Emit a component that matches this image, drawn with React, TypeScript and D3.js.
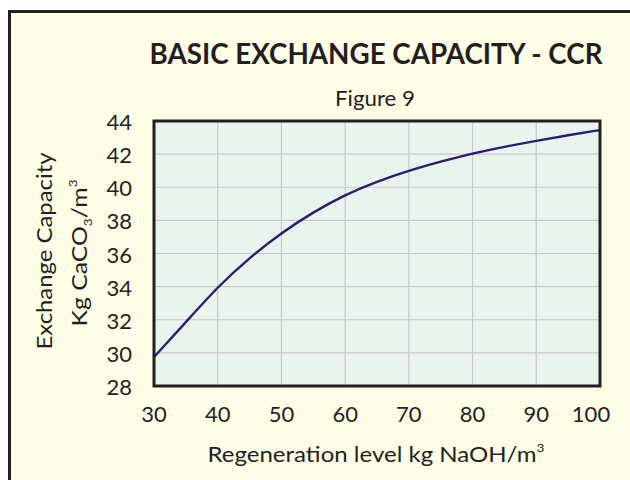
import React from "react";
import * as d3 from "d3";

const regenLevels = [30, 35, 40, 45, 50, 55, 60, 65, 70, 75, 80, 85, 90, 95, 100];
const capacity = [29.75, 31.85, 34.0, 35.75, 37.25, 38.5, 39.55, 40.35, 41.0, 41.55, 42.05, 42.45, 42.8, 43.15, 43.45];
const xTicks = [30, 40, 50, 60, 70, 80, 90, 100];
const yTicks = [28, 30, 32, 34, 36, 38, 40, 42, 44];

const W = 630;
const H = 480;
const FONT = "Lato, 'Open Sans', sans-serif";
const TEXT = "#231f20";

export default function App() {
  const x = d3.scaleLinear().domain([30, 100]).range([154, 600]);
  const y = d3.scaleLinear().domain([28, 44]).range([386, 121]);
  const pts = regenLevels.map((v, i) => [v, capacity[i]] as [number, number]);
  const line = d3
    .line<[number, number]>()
    .x((d) => x(d[0]))
    .y((d) => y(d[1]))
    .curve(d3.curveBasis);

  return (
    <svg
      width={W}
      height={H}
      style={{ position: "absolute", left: 0, top: 0, background: "#ffffff" }}
    >
      <rect x={9.5} y={11.5} width={700} height={600} fill="#fefee6" stroke={TEXT} strokeWidth={3} />
      <text
        x={376}
        y={64}
        textAnchor="middle"
        fontFamily={FONT}
        fontWeight={700}
        fontSize={29}
        fill={TEXT}
        textLength={453}
        lengthAdjust="spacingAndGlyphs"
      >
        BASIC EXCHANGE CAPACITY - CCR
      </text>
      <text x={375} y={106} textAnchor="middle" fontFamily={FONT} fontSize={21} fill={TEXT}
        textLength={80} lengthAdjust="spacingAndGlyphs">
        Figure 9
      </text>

      <rect x={154} y={121} width={446} height={265} fill="#eaf4ee" />
      {xTicks.map((t) => (
        <line key={"gx" + t} x1={x(t)} x2={x(t)} y1={121} y2={386} stroke="#c9c9c9" strokeWidth={1.2} />
      ))}
      {yTicks.map((t) => (
        <line key={"gy" + t} x1={154} x2={600} y1={y(t)} y2={y(t)} stroke="#c9c9c9" strokeWidth={1.2} />
      ))}
      <path d={line(pts) || ""} fill="none" stroke="#2a1c6e" strokeWidth={2.4} />
      <rect x={154} y={121} width={446} height={265} fill="none" stroke={TEXT} strokeWidth={3} />

      {yTicks.map((t) => (
        <text
          key={"ly" + t}
          x={132}
          y={y(t) + 9}
          textAnchor="end"
          fontFamily={FONT}
          fontSize={22}
          fill={TEXT}
        >
          {t}
        </text>
      ))}
      {xTicks.map((t, i) => (
        <text
          key={"lx" + t}
          x={x(t) - (i === xTicks.length - 1 ? 9 : 0)}
          y={422}
          textAnchor="middle"
          fontFamily={FONT}
          fontSize={22}
          fill={TEXT}
        >
          {t}
        </text>
      ))}

      <text x={376} y={462} textAnchor="middle" fontFamily={FONT} fontSize={21} fill={TEXT}
        textLength={337} lengthAdjust="spacingAndGlyphs">
        Regeneration level kg NaOH/m
        <tspan fontSize={12} dy={-10}>3</tspan>
      </text>

      <g transform="translate(52,251) rotate(-90)">
        <text x={0} y={0} textAnchor="middle" fontFamily={FONT} fontSize={22} fill={TEXT}
          textLength={197} lengthAdjust="spacingAndGlyphs">
          Exchange Capacity
        </text>
      </g>
      <g transform="translate(87,253) rotate(-90)">
        <text x={0} y={0} textAnchor="middle" fontFamily={FONT} fontSize={22} fill={TEXT}
          textLength={147} lengthAdjust="spacingAndGlyphs">
          Kg CaCO
          <tspan fontSize={12} dy={5}>3</tspan>
          <tspan dy={-5}>/m</tspan>
          <tspan fontSize={12} dy={-10}>3</tspan>
        </text>
      </g>
    </svg>
  );
}
